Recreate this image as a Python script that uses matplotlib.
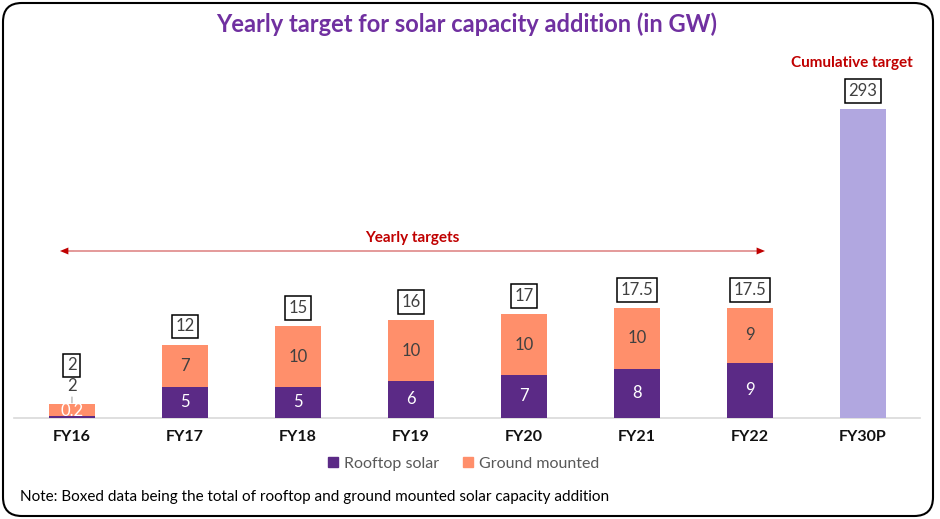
import matplotlib
matplotlib.use("Agg")
import matplotlib.pyplot as plt
from matplotlib.patches import FancyBboxPatch, Rectangle

plt.rcParams['font.family'] = ['Lato', 'DejaVu Sans']

# ---- data ----
categories = ["FY16", "FY17", "FY18", "FY19", "FY20", "FY21", "FY22"]
rooftop = [0.2, 5, 5, 6, 7, 8, 9]
ground = [2, 7, 10, 10, 10, 10, 9]
totals = [2, 12, 15, 16, 17, 17.5, 17.5]
cum_category = "FY30P"
cum_value = 293

c_roof = "#5B2A86"
c_ground = "#FF8F6B"
c_cum = "#B1A7E0"
c_title = "#7030A0"
c_red = "#C00000"
c_text = "#404040"

W, H = 940, 519
fig = plt.figure(figsize=(W / 100, H / 100), dpi=100)

# axes geometry (pixels)
ax_left, ax_right = 14, 920
base_y, top_y = 417.7, 100
ax = fig.add_axes([ax_left / W, (H - base_y) / H, (ax_right - ax_left) / W, (base_y - top_y) / H])
ax2 = ax.twinx()

px_per_gw = 6.1
ax.set_ylim(0, (base_y - top_y) / px_per_gw)
ax2.set_ylim(0, (base_y - top_y) * cum_value / (base_y - 109))
ax.set_xlim(-0.513, 7.505)

x = list(range(len(categories)))
xc = len(categories)
bw = 0.40

ax.bar(x, rooftop, bw, color=c_roof, label="Rooftop solar", zorder=3)
ax.bar(x, ground, bw, bottom=rooftop, color=c_ground, label="Ground mounted", zorder=3)
ax2.bar([xc], [cum_value], bw, color=c_cum, zorder=3)

for ax_ in (ax, ax2):
    for s in ax_.spines.values():
        s.set_visible(False)
    ax_.set_yticks([])
ax.spines['bottom'].set_visible(True)
ax.spines['bottom'].set_color("#D9D9D9")
ax.spines['bottom'].set_linewidth(1.2)

ax.set_xticks(x + [xc])
ax.set_xticklabels(categories + [cum_category], fontsize=11.5, fontweight='bold', color="#111111")
ax.tick_params(axis='x', length=0, pad=9)

fs = 12
box = dict(boxstyle="square,pad=0.22", fc="white", ec="black", lw=1.1)
for i in x:
    r, g, t = rooftop[i], ground[i], totals[i]
    top = r + g
    if g < 3:
        ax.text(i, top / 2, f"{r:g}", ha='center', va='center', color='white', fontsize=fs, zorder=4)
        ax.annotate(f"{g:g}", xy=(i, top), xytext=(0, 13), textcoords='offset points',
                    ha='center', va='center', color=c_text, fontsize=fs,
                    arrowprops=dict(arrowstyle='-', color='#A6A6A6', lw=0.8, shrinkA=6, shrinkB=1))
        ax.annotate(f"{t:g}", xy=(i, top), xytext=(0, 28), textcoords='offset points',
                    ha='center', va='center', color=c_text, fontsize=fs, bbox=box)
    else:
        ax.text(i, r / 2, f"{r:g}", ha='center', va='center', color='white', fontsize=fs, zorder=4)
        ax.text(i, r + g / 2, f"{g:g}", ha='center', va='center', color=c_text, fontsize=fs, zorder=4)
        ax.annotate(f"{t:g}", xy=(i, top), xytext=(0, 13), textcoords='offset points',
                    ha='center', va='center', color=c_text, fontsize=fs, bbox=box)

ax2.annotate(f"{cum_value:g}", xy=(xc, cum_value), xytext=(0, 13), textcoords='offset points',
             ha='center', va='center', color=c_text, fontsize=fs, bbox=box)
ax2.annotate("Cumulative target", xy=(xc, cum_value), xytext=(-8, 33), textcoords='offset points',
             ha='center', va='center', color=c_red, fontsize=11, fontweight='bold')

# yearly targets arrow: pale line with red heads
arrow_y = (base_y - 251) / px_per_gw
x0 = (60 - ax_left) / 113 - 0.513
x1 = (765 - ax_left) / 113 - 0.513
ax.plot([x0 + 0.05, x1 - 0.05], [arrow_y, arrow_y], color='#E49A9A', lw=1.4, solid_capstyle='butt')
for xa, xb in ((x0 + 0.12, x0), (x1 - 0.12, x1)):
    ax.annotate("", xy=(xb, arrow_y), xytext=(xa, arrow_y),
                arrowprops=dict(arrowstyle='-|>,head_length=0.6,head_width=0.25', color=c_red, lw=0.01,
                                shrinkA=0, shrinkB=0))
ax.text((x0 + x1) / 2, arrow_y + 2.2, "Yearly targets", ha='center', va='center',
        color=c_red, fontsize=11, fontweight='bold')

# title
fig.text(467 / W, 1 - 24 / H, "Yearly target for solar capacity addition (in GW)", ha='center', va='center',
         color=c_title, fontsize=17, fontweight='bold')

# legend
handles = [Rectangle((0, 0), 1, 1, color=c_roof), Rectangle((0, 0), 1, 1, color=c_ground)]
fig.legend(handles, ["Rooftop solar", "Ground mounted"], loc='center', bbox_to_anchor=(464 / W, 1 - 464 / H),
           ncol=2, frameon=False, fontsize=11.5, handlelength=0.6, handleheight=0.6, handletextpad=0.4,
           columnspacing=1.5, labelcolor="#595959")

# note
fig.text(20 / W, 1 - 497 / H, "Note: Boxed data being the total of rooftop and ground mounted solar capacity addition",
         ha='left', va='center', color='black', fontsize=11)

# border
border = FancyBboxPatch((3 / W, 3 / H), (930 / W), (513 / H), boxstyle="round,pad=0,rounding_size=0.02",
                        transform=fig.transFigure, fill=False, ec='black', lw=1.5, mutation_aspect=W / H)
fig.patches.append(border)

fig.savefig("out.png", dpi=100)
